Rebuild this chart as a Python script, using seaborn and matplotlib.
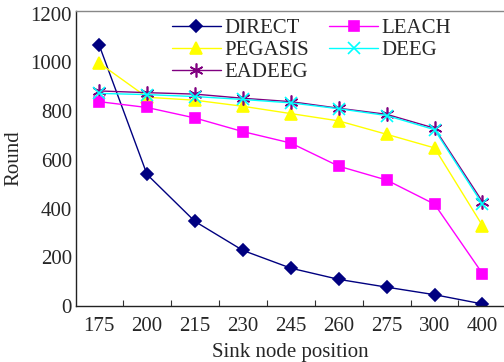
import numpy as np
import pandas as pd
import matplotlib
matplotlib.use('Agg')
import matplotlib.pyplot as plt
from matplotlib.ticker import FixedLocator
import seaborn as sns

# Data
positions = ['175', '200', '215', '230', '245', '260', '275', '300', '400']
direct = [1072, 540, 347, 228, 155, 109, 77, 46, 8]
leach = [839, 815, 772, 716, 669, 574, 517, 418, 133]
pegasis = [998, 857, 845, 820, 790, 760, 705, 649, 330]
deeg = [873, 868, 860, 848, 834, 810, 782, 724, 418]
eadeeg = [883, 876, 870, 853, 839, 812, 787, 730, 428]

series = [
    ('DIRECT', direct, '#000080', 'D', 6),
    ('PEGASIS', pegasis, '#FFFF00', '^', 9),
    ('EADEEG', eadeeg, '#800080', (6, 2, 0), 10),
    ('LEACH', leach, '#FF00FF', 's', 7),
    ('DEEG', deeg, '#00FFFF', 'x', 8),
]

sns.set_style('white')
plt.rcParams['font.family'] = ['Liberation Serif', 'DejaVu Serif']
FS = 15

fig = plt.figure(figsize=(5.04, 3.62), dpi=100)
ax = fig.add_axes([0.151, 0.155, 0.849, 0.815])

x = np.arange(len(positions))
for name, vals, color, marker, size in series:
    sns.lineplot(x=x, y=vals, ax=ax, color=color, marker=marker, markersize=size,
                 markeredgecolor=color, markeredgewidth=1.2, linewidth=1.0, label=name)

ax.set_xlim(-0.48, 8.45)
ax.set_ylim(0, 1212)
ax.set_yticks(range(0, 1201, 200))
ax.set_xticks(x)
ax.set_xticklabels(positions)
ax.xaxis.set_minor_locator(FixedLocator(x[:-1] + 0.5))
ax.tick_params(axis='x', which='major', length=0, labelsize=FS, pad=8)
ax.tick_params(axis='x', which='minor', direction='in', length=4, width=0.8, color='#333333', bottom=True)
ax.tick_params(axis='y', which='major', direction='in', length=0, labelsize=FS, pad=3)

for side in ['left', 'bottom']:
    ax.spines[side].set_color('#222222')
    ax.spines[side].set_linewidth(1.0)
ax.spines['top'].set_color('#888888')
ax.spines['top'].set_linewidth(1.0)
ax.spines['right'].set_visible(False)

ax.set_xlabel('Sink node position', fontsize=FS, labelpad=5)
ax.set_ylabel('Round', fontsize=FS, labelpad=5)

ax.legend(ncol=2, frameon=False, fontsize=FS, loc='upper left',
          bbox_to_anchor=(0.224, 0.975), handlelength=2.35, handletextpad=0.15,
          columnspacing=1.0, labelspacing=0.12, borderaxespad=0, borderpad=0)

fig.savefig('out.png', dpi=100)
